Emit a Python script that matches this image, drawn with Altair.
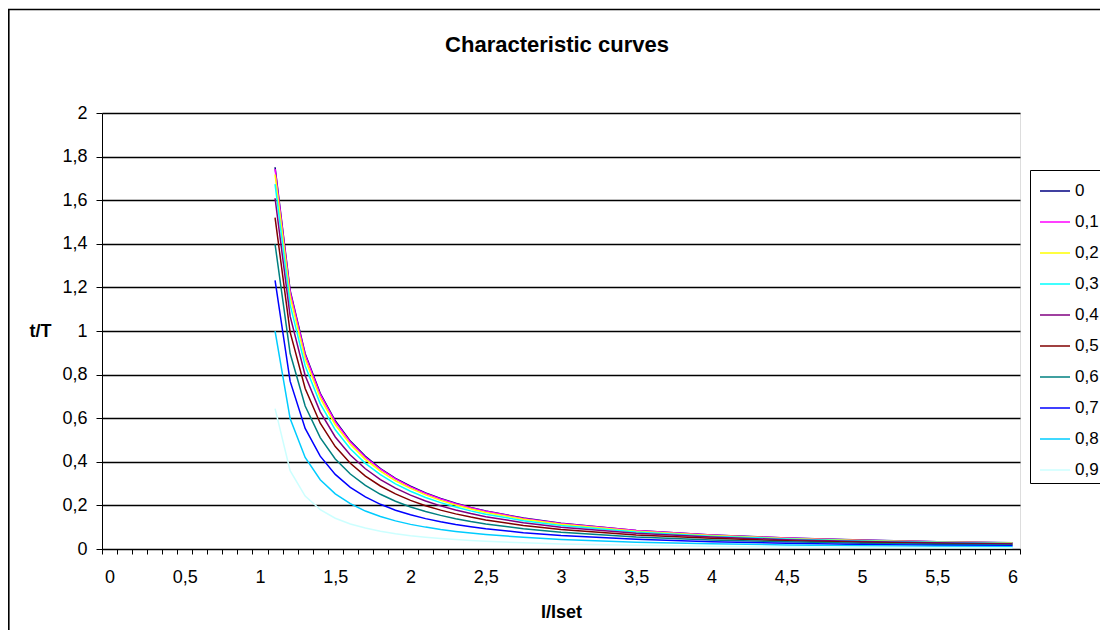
import altair as alt
import pandas as pd

# ---- data ----
I_Iset = [1.1, 1.2, 1.3, 1.4, 1.5, 1.6, 1.7, 1.8, 1.9, 2.0, 2.1, 2.2, 2.3, 2.4, 2.5,
          2.75, 3.0, 3.5, 4.0, 4.5, 5.0, 5.5, 6.0]

series_names = ["0", "0,1", "0,2", "0,3", "0,4", "0,5", "0,6", "0,7", "0,8", "0,9"]
series_colors = ["#000080", "#FF00FF", "#FFFF00", "#00FFFF", "#800080",
                 "#800000", "#008080", "#0000FF", "#00CCFF", "#CCFFFF"]

t_0  = [1.751, 1.186, 0.896, 0.714, 0.588, 0.495, 0.425, 0.369, 0.324, 0.288, 0.2572, 0.2314, 0.2095, 0.1907, 0.1744, 0.1418, 0.1178, 0.0852, 0.0645, 0.0506, 0.0408, 0.0336, 0.0282]
t_01 = [1.743, 1.179, 0.890, 0.709, 0.583, 0.491, 0.421, 0.366, 0.322, 0.285, 0.2549, 0.2294, 0.2076, 0.1890, 0.1728, 0.1405, 0.1167, 0.0844, 0.0639, 0.0502, 0.0404, 0.0333, 0.0279]
t_02 = [1.718, 1.158, 0.872, 0.693, 0.570, 0.480, 0.411, 0.357, 0.313, 0.278, 0.2481, 0.2231, 0.2019, 0.1837, 0.1679, 0.1365, 0.1133, 0.0819, 0.0620, 0.0487, 0.0392, 0.0323, 0.0271]
t_03 = [1.674, 1.121, 0.841, 0.667, 0.547, 0.460, 0.393, 0.341, 0.299, 0.265, 0.2365, 0.2127, 0.1924, 0.1749, 0.1599, 0.1299, 0.1077, 0.0778, 0.0589, 0.0462, 0.0372, 0.0306, 0.0257]
t_04 = [1.609, 1.068, 0.796, 0.629, 0.514, 0.431, 0.368, 0.318, 0.279, 0.247, 0.2202, 0.1978, 0.1788, 0.1625, 0.1484, 0.1204, 0.0998, 0.0720, 0.0545, 0.0427, 0.0344, 0.0283, 0.0237]
t_05 = [1.520, 0.995, 0.736, 0.577, 0.470, 0.393, 0.334, 0.289, 0.253, 0.223, 0.1988, 0.1784, 0.1611, 0.1463, 0.1335, 0.1082, 0.0896, 0.0645, 0.0488, 0.0382, 0.0308, 0.0253, 0.0212]
t_06 = [1.398, 0.898, 0.656, 0.511, 0.413, 0.344, 0.292, 0.251, 0.219, 0.193, 0.1720, 0.1542, 0.1391, 0.1262, 0.1150, 0.0931, 0.0770, 0.0553, 0.0418, 0.0327, 0.0263, 0.0216, 0.0181]
t_07 = [1.232, 0.770, 0.553, 0.426, 0.342, 0.283, 0.239, 0.205, 0.178, 0.157, 0.1394, 0.1247, 0.1123, 0.1018, 0.0927, 0.0748, 0.0618, 0.0443, 0.0334, 0.0261, 0.0210, 0.0173, 0.0145]
t_08 = [0.999, 0.598, 0.420, 0.318, 0.253, 0.208, 0.174, 0.149, 0.129, 0.113, 0.1004, 0.0896, 0.0806, 0.0729, 0.0663, 0.0534, 0.0440, 0.0315, 0.0237, 0.0185, 0.0149, 0.0122, 0.0102]
t_09 = [0.644, 0.359, 0.243, 0.181, 0.141, 0.115, 0.096, 0.081, 0.070, 0.061, 0.0542, 0.0483, 0.0433, 0.0391, 0.0355, 0.0285, 0.0235, 0.0167, 0.0126, 0.0098, 0.0079, 0.0065, 0.0054]

series_values = [t_0, t_01, t_02, t_03, t_04, t_05, t_06, t_07, t_08, t_09]

y_ticks = [0, 0.2, 0.4, 0.6, 0.8, 1.0, 1.2, 1.4, 1.6, 1.8, 2.0]
# category boundaries (tick marks sit between categories 0, 0.1, ..., 6.0)
x_tick_bounds = [round(-0.05 + 0.1 * i, 2) for i in range(62)]

rows = []
for name, vals in zip(series_names, series_values):
    for xv, tv in zip(I_Iset, vals):
        rows.append({"k": name, "x": xv, "t": tv})
df = pd.DataFrame(rows)

FONT = "Liberation Sans"
W, H = 918, 436
half_step = W / 61 / 2

lines = alt.Chart(df).mark_line(strokeWidth=1.5).encode(
    x=alt.X("x:Q",
            scale=alt.Scale(domain=[-0.05, 6.05], nice=False, zero=False),
            axis=alt.Axis(values=x_tick_bounds, title="I/Iset", grid=False,
                          labelExpr="(round((datum.value+0.05)*10) % 5 == 0) ? replace(toString(round((datum.value+0.05)*10)/10), '.', ',') : ''",
                          labelOffset=half_step, labelOverlap=False, labelFlush=False,
                          tickSize=5, tickColor="black", domainColor="black",
                          labelPadding=14, labelFontSize=18, labelFont=FONT, labelColor="black",
                          titleFontSize=18, titleFont=FONT, titleFontWeight="bold",
                          titleColor="black", titleBaseline="middle", titleY=63)),
    y=alt.Y("t:Q",
            scale=alt.Scale(domain=[0, 2], nice=False),
            axis=alt.Axis(values=y_ticks, title="t/T", grid=True, gridColor="black",
                          gridWidth=1.3, gridOpacity=1,
                          labelExpr="replace(toString(datum.value), '.', ',')",
                          tickSize=6, tickColor="black", domainColor="black",
                          labelPadding=9, labelFontSize=18, labelFont=FONT, labelColor="black",
                          titleFontSize=18, titleFont=FONT, titleFontWeight="bold",
                          titleColor="black", titleAngle=0, titleAlign="center",
                          titleBaseline="middle", titleX=-62, titleY=218)),
    color=alt.Color("k:N",
                    scale=alt.Scale(domain=series_names, range=series_colors),
                    legend=alt.Legend(title=None, orient="none", legendX=928, legendY=57,
                                      fillColor="white", strokeColor="black", padding=5,
                                      symbolOffset=4,
                                      symbolType="stroke", symbolSize=900,
                                      symbolStrokeWidth=1.5, labelFontSize=17,
                                      labelFont=FONT, labelColor="black",
                                      labelOffset=4, rowPadding=7)),
    detail="k:N",
    order=alt.Order("x:Q"),
)

border = alt.Chart(pd.DataFrame({"a": [0]})).mark_rect(
    fillOpacity=0, stroke="black", strokeWidth=1.6, clip=False
).encode(
    x=alt.value(-93.2), x2=alt.value(1200), y=alt.value(-103.5), y2=alt.value(700)
)

chart = alt.layer(border, lines).properties(
    width=W, height=H,
    title=alt.TitleParams("Characteristic curves", fontSize=22, fontWeight="bold",
                          font=FONT, color="black", anchor="middle", dx=-4,
                          baseline="alphabetic", offset=0, dy=65),
    autosize=alt.AutoSizeParams(type="none"),
    padding={"left": 94, "top": 105, "right": 80, "bottom": 81},
).configure_view(
    fill="#C0C0C0", stroke="#808080", strokeWidth=1
).configure(background="white")

chart.save("out.html", embed_options={"renderer": "svg", "actions": False})
